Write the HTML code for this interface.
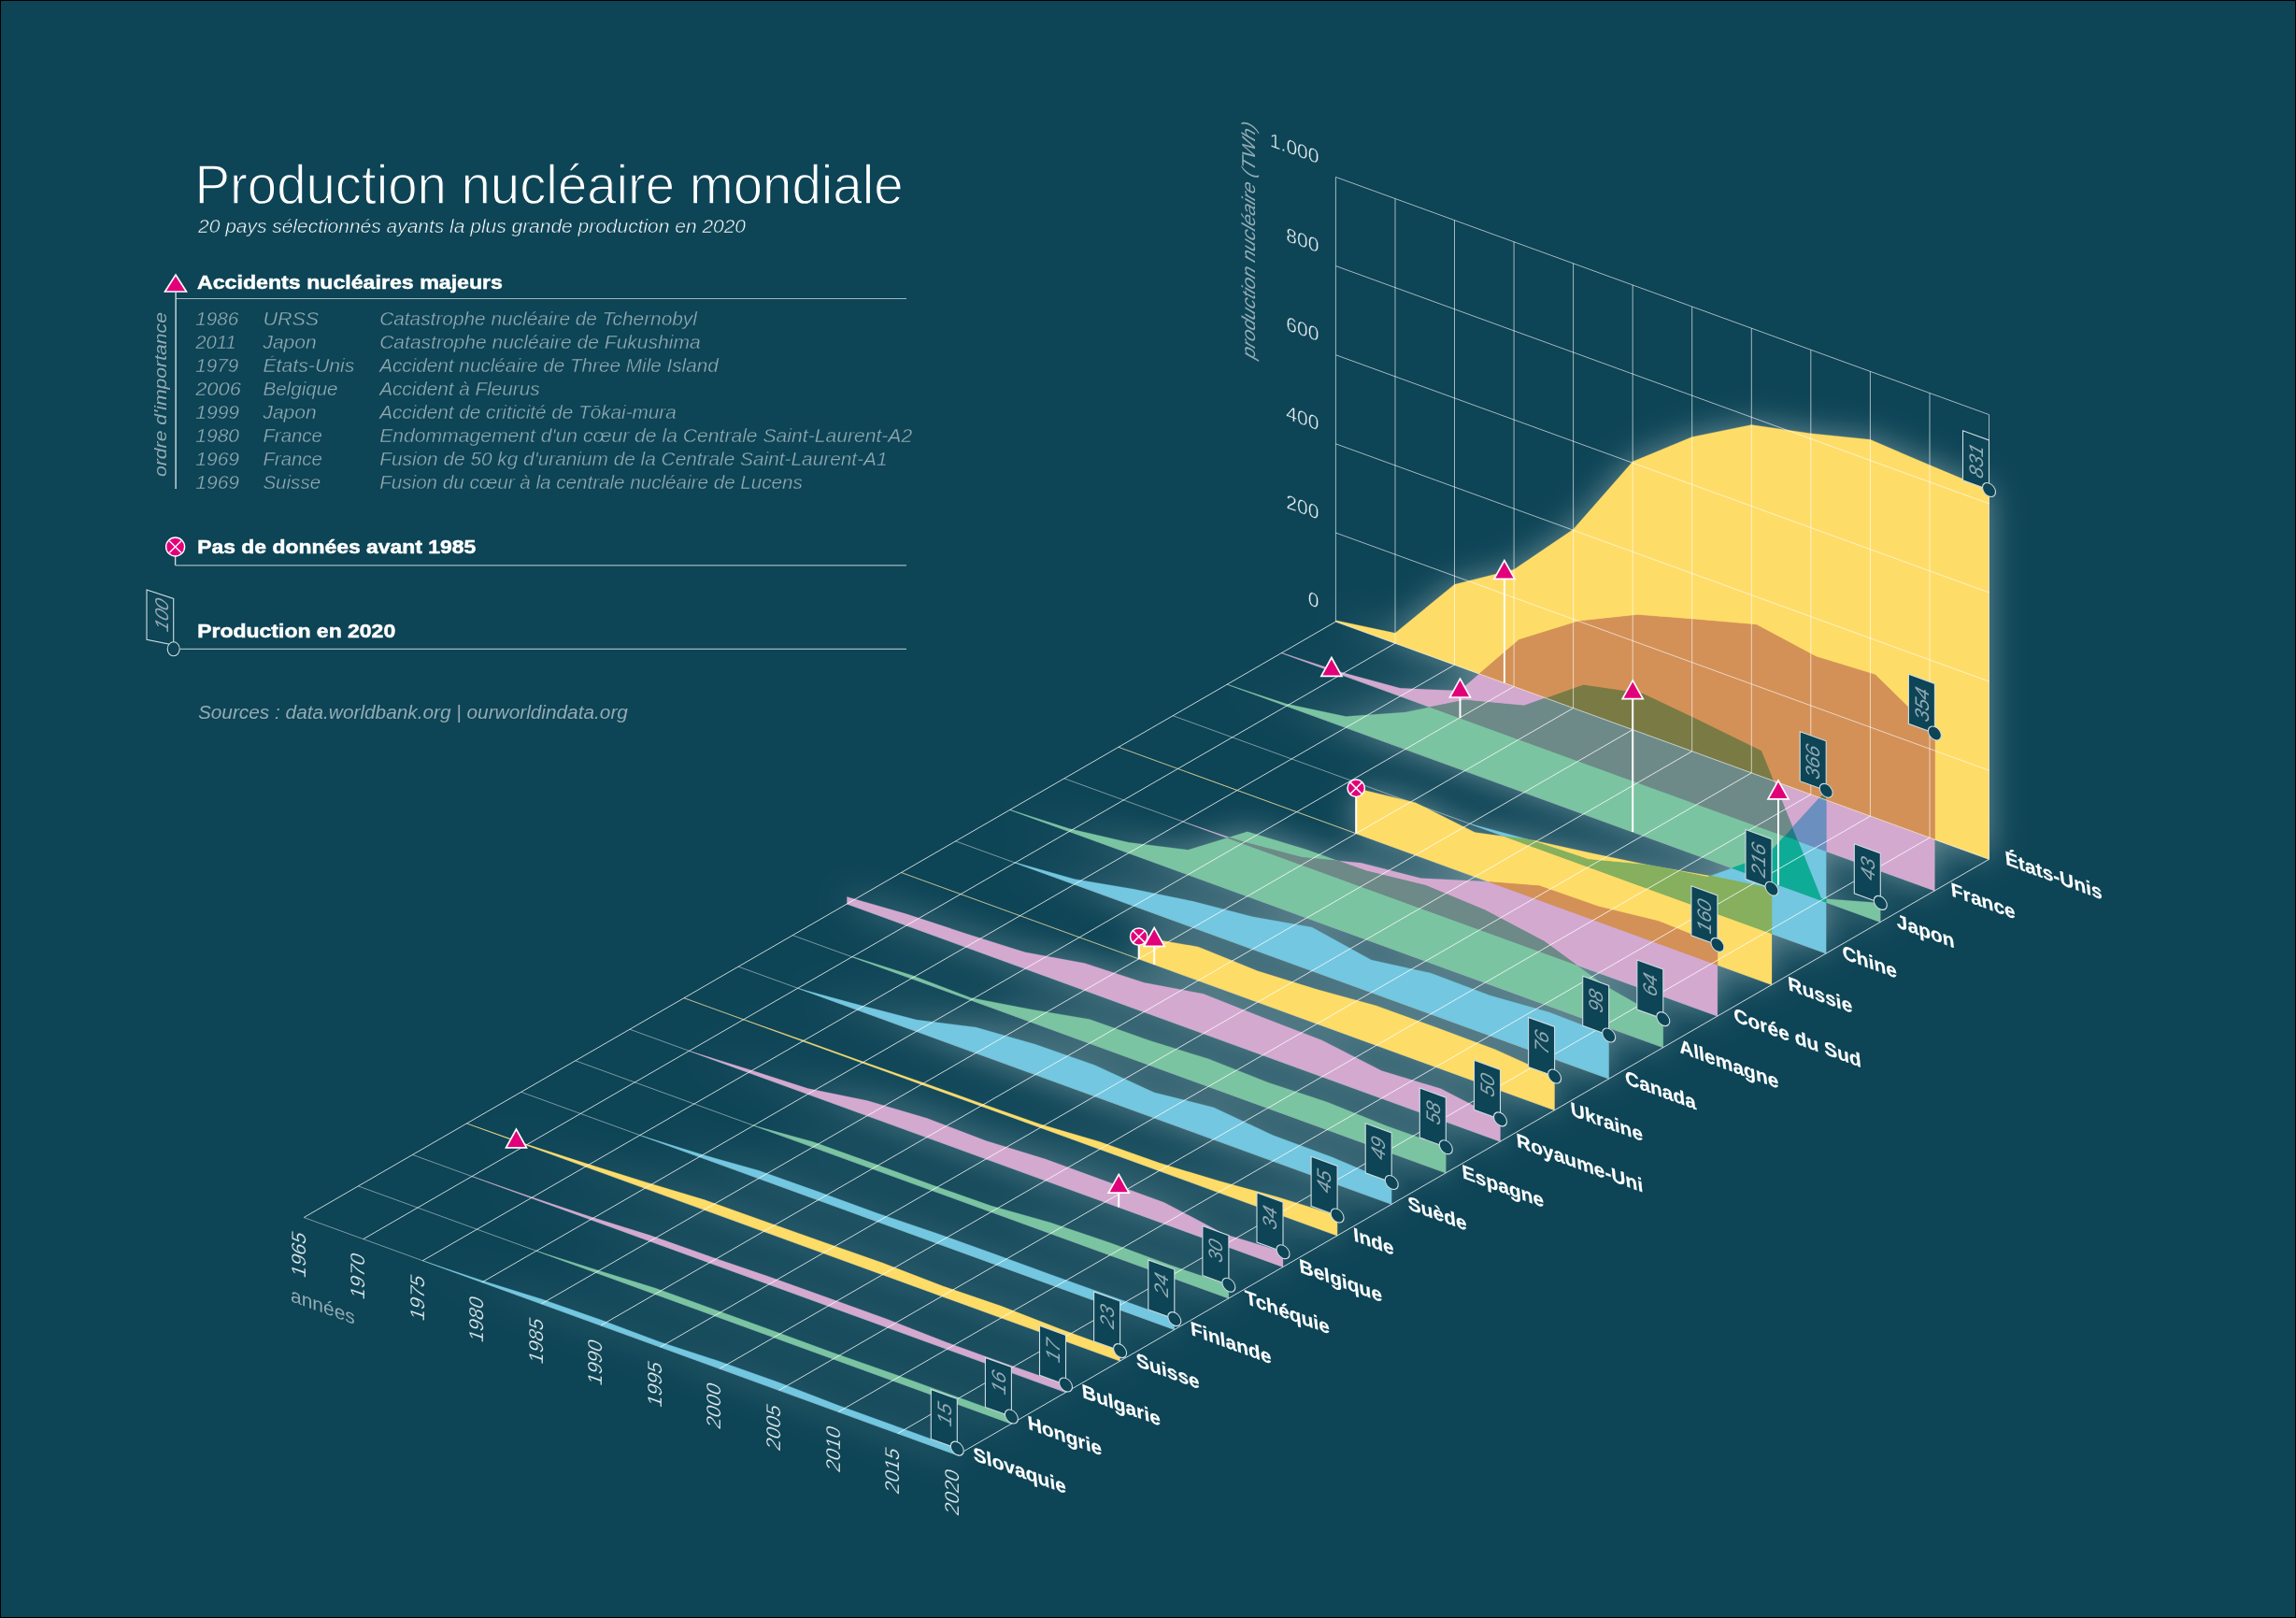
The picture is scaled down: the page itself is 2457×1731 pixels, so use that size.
<!DOCTYPE html><html><head><meta charset="utf-8"><style>html,body{margin:0;padding:0;background:#000;}svg{display:block}text{font-family:"Liberation Sans",sans-serif}</style></head><body>
<svg width="2457" height="1731" viewBox="0 0 2457 1731">
<defs><filter id="blur" x="-5%" y="-10%" width="110%" height="120%"><feGaussianBlur in="SourceAlpha" stdDeviation="18"/><feColorMatrix type="matrix" values="0 0 0 0 0.86  0 0 0 0 0.92  0 0 0 0 0.90  0 0 0 0.42 0"/></filter></defs>
<rect x="0" y="0" width="2457" height="1731" fill="#000"/>
<rect x="1" y="1" width="2455" height="1729" fill="#0d4456"/>
<text x="208.5" y="217.5" font-size="60" fill="#fff" stroke="#0d4456" stroke-width="1.3" textLength="758" lengthAdjust="spacingAndGlyphs">Production nucléaire mondiale</text>
<text x="212" y="248.8" font-size="20" font-style="italic" fill="#fff" stroke="#0d4456" stroke-width="0.5" textLength="586" lengthAdjust="spacingAndGlyphs">20 pays sélectionnés ayants la plus grande production en 2020</text>
<polygon points="188,294 199.5,312 176.5,312" fill="#e2007a" stroke="#fff" stroke-width="1.6" stroke-linejoin="miter"/>
<text x="211" y="309.2" font-size="21" font-weight="bold" fill="#fff" stroke="#fff" stroke-width="0.5" textLength="327" lengthAdjust="spacingAndGlyphs">Accidents nucléaires majeurs</text>
<line x1="188" y1="319.5" x2="970" y2="319.5" stroke="#9fb8bf" stroke-width="1.2"/>
<line x1="188.1" y1="312" x2="188.1" y2="523" stroke="#cfdde1" stroke-width="1.4"/>
<text transform="translate(178,510) rotate(-90)" font-size="19" font-style="italic" fill="#93abb3" textLength="176" lengthAdjust="spacingAndGlyphs">ordre d'importance</text>
<text x="209.2" y="348.0" font-size="20.5" font-style="italic" fill="#93abb3" stroke="#0d4456" stroke-width="0.35" textLength="46.1" lengthAdjust="spacingAndGlyphs">1986</text>
<text x="281.4" y="348.0" font-size="20.5" font-style="italic" fill="#93abb3" stroke="#0d4456" stroke-width="0.35" textLength="59.8" lengthAdjust="spacingAndGlyphs">URSS</text>
<text x="406.2" y="348.0" font-size="20.5" font-style="italic" fill="#93abb3" stroke="#0d4456" stroke-width="0.35" textLength="339.7" lengthAdjust="spacingAndGlyphs">Catastrophe nucléaire de Tchernobyl</text>
<text x="209.2" y="373.0" font-size="20.5" font-style="italic" fill="#93abb3" stroke="#0d4456" stroke-width="0.35" textLength="43.5" lengthAdjust="spacingAndGlyphs">2011</text>
<text x="281.4" y="373.0" font-size="20.5" font-style="italic" fill="#93abb3" stroke="#0d4456" stroke-width="0.35" textLength="57.2" lengthAdjust="spacingAndGlyphs">Japon</text>
<text x="406.2" y="373.0" font-size="20.5" font-style="italic" fill="#93abb3" stroke="#0d4456" stroke-width="0.35" textLength="343.4" lengthAdjust="spacingAndGlyphs">Catastrophe nucléaire de Fukushima</text>
<text x="209.2" y="398.1" font-size="20.5" font-style="italic" fill="#93abb3" stroke="#0d4456" stroke-width="0.35" textLength="46.1" lengthAdjust="spacingAndGlyphs">1979</text>
<text x="281.4" y="398.1" font-size="20.5" font-style="italic" fill="#93abb3" stroke="#0d4456" stroke-width="0.35" textLength="98" lengthAdjust="spacingAndGlyphs">États-Unis</text>
<text x="406.2" y="398.1" font-size="20.5" font-style="italic" fill="#93abb3" stroke="#0d4456" stroke-width="0.35" textLength="362.6" lengthAdjust="spacingAndGlyphs">Accident nucléaire de Three Mile Island</text>
<text x="209.2" y="423.1" font-size="20.5" font-style="italic" fill="#93abb3" stroke="#0d4456" stroke-width="0.35" textLength="48.7" lengthAdjust="spacingAndGlyphs">2006</text>
<text x="281.4" y="423.1" font-size="20.5" font-style="italic" fill="#93abb3" stroke="#0d4456" stroke-width="0.35" textLength="80.2" lengthAdjust="spacingAndGlyphs">Belgique</text>
<text x="406.2" y="423.1" font-size="20.5" font-style="italic" fill="#93abb3" stroke="#0d4456" stroke-width="0.35" textLength="171.3" lengthAdjust="spacingAndGlyphs">Accident à Fleurus</text>
<text x="209.2" y="448.1" font-size="20.5" font-style="italic" fill="#93abb3" stroke="#0d4456" stroke-width="0.35" textLength="46.9" lengthAdjust="spacingAndGlyphs">1999</text>
<text x="281.4" y="448.1" font-size="20.5" font-style="italic" fill="#93abb3" stroke="#0d4456" stroke-width="0.35" textLength="57.2" lengthAdjust="spacingAndGlyphs">Japon</text>
<text x="406.2" y="448.1" font-size="20.5" font-style="italic" fill="#93abb3" stroke="#0d4456" stroke-width="0.35" textLength="317.5" lengthAdjust="spacingAndGlyphs">Accident de criticité de Tōkai-mura</text>
<text x="209.2" y="473.1" font-size="20.5" font-style="italic" fill="#93abb3" stroke="#0d4456" stroke-width="0.35" textLength="46.9" lengthAdjust="spacingAndGlyphs">1980</text>
<text x="281.4" y="473.1" font-size="20.5" font-style="italic" fill="#93abb3" stroke="#0d4456" stroke-width="0.35" textLength="63.5" lengthAdjust="spacingAndGlyphs">France</text>
<text x="406.2" y="473.1" font-size="20.5" font-style="italic" fill="#93abb3" stroke="#0d4456" stroke-width="0.35" textLength="570" lengthAdjust="spacingAndGlyphs">Endommagement d'un cœur de la Centrale Saint-Laurent-A2</text>
<text x="209.2" y="498.2" font-size="20.5" font-style="italic" fill="#93abb3" stroke="#0d4456" stroke-width="0.35" textLength="46.9" lengthAdjust="spacingAndGlyphs">1969</text>
<text x="281.4" y="498.2" font-size="20.5" font-style="italic" fill="#93abb3" stroke="#0d4456" stroke-width="0.35" textLength="63.5" lengthAdjust="spacingAndGlyphs">France</text>
<text x="406.2" y="498.2" font-size="20.5" font-style="italic" fill="#93abb3" stroke="#0d4456" stroke-width="0.35" textLength="543.3" lengthAdjust="spacingAndGlyphs">Fusion de 50 kg d'uranium de la Centrale Saint-Laurent-A1</text>
<text x="209.2" y="523.2" font-size="20.5" font-style="italic" fill="#93abb3" stroke="#0d4456" stroke-width="0.35" textLength="46.9" lengthAdjust="spacingAndGlyphs">1969</text>
<text x="281.4" y="523.2" font-size="20.5" font-style="italic" fill="#93abb3" stroke="#0d4456" stroke-width="0.35" textLength="61.7" lengthAdjust="spacingAndGlyphs">Suisse</text>
<text x="406.2" y="523.2" font-size="20.5" font-style="italic" fill="#93abb3" stroke="#0d4456" stroke-width="0.35" textLength="452.6" lengthAdjust="spacingAndGlyphs">Fusion du cœur à la centrale nucléaire de Lucens</text>
<line x1="187.6" y1="590" x2="187.6" y2="604.8" stroke="#cfdde1" stroke-width="1.4"/>
<circle cx="187.6" cy="585" r="10" fill="#e2007a" stroke="#fff" stroke-width="1.4"/>
<path d="M181.3,578.7 L193.9,591.3 M193.9,578.7 L181.3,591.3" stroke="#fff" stroke-width="1.4"/>
<text x="211.2" y="592.4" font-size="21" font-weight="bold" fill="#fff" stroke="#fff" stroke-width="0.5" textLength="298" lengthAdjust="spacingAndGlyphs">Pas de données avant 1985</text>
<line x1="187.6" y1="604.8" x2="970" y2="604.8" stroke="#9fb8bf" stroke-width="1.2"/>
<polygon points="157,631 185.7,640.4 185.7,690 157,684.2" fill="none" stroke="#cfdde1" stroke-width="1.1"/>
<text transform="matrix(0,-1,1,0.3636,180,660)" font-size="20" font-style="italic" fill="#93abb3" text-anchor="middle">100</text>
<ellipse cx="185.7" cy="694.3" rx="6.5" ry="7.5" fill="#0d4456" stroke="#cfdde1" stroke-width="1.1"/>
<text x="211.2" y="682.3" font-size="21" font-weight="bold" fill="#fff" stroke="#fff" stroke-width="0.5" textLength="212" lengthAdjust="spacingAndGlyphs">Production en 2020</text>
<line x1="192.4" y1="694.3" x2="970" y2="694.3" stroke="#9fb8bf" stroke-width="1.2"/>
<text x="211.9" y="769.3" font-size="20.5" font-style="italic" fill="#93abb3" textLength="460" lengthAdjust="spacingAndGlyphs">Sources : data.worldbank.org | ourworldindata.org</text>
<line x1="1371.3" y1="698.6" x2="2070.4" y2="952.9" stroke="#ffffff" stroke-opacity="0.45" stroke-width="1"/>
<line x1="1313.2" y1="732.2" x2="2012.3" y2="986.4" stroke="#ffffff" stroke-opacity="0.45" stroke-width="1"/>
<line x1="1255.1" y1="765.7" x2="1954.2" y2="1020.0" stroke="#ffffff" stroke-opacity="0.45" stroke-width="1"/>
<line x1="1196.9" y1="799.3" x2="1896.0" y2="1053.5" stroke="#ffffff" stroke-opacity="0.45" stroke-width="1"/>
<line x1="1138.8" y1="832.8" x2="1837.9" y2="1087.0" stroke="#ffffff" stroke-opacity="0.45" stroke-width="1"/>
<line x1="1080.7" y1="866.4" x2="1779.8" y2="1120.6" stroke="#ffffff" stroke-opacity="0.45" stroke-width="1"/>
<line x1="1022.6" y1="899.9" x2="1721.7" y2="1154.1" stroke="#ffffff" stroke-opacity="0.45" stroke-width="1"/>
<line x1="964.5" y1="933.5" x2="1663.6" y2="1187.7" stroke="#ffffff" stroke-opacity="0.45" stroke-width="1"/>
<line x1="906.4" y1="967.0" x2="1605.5" y2="1221.2" stroke="#ffffff" stroke-opacity="0.45" stroke-width="1"/>
<line x1="848.2" y1="1000.6" x2="1547.3" y2="1254.8" stroke="#ffffff" stroke-opacity="0.45" stroke-width="1"/>
<line x1="790.1" y1="1034.1" x2="1489.2" y2="1288.3" stroke="#ffffff" stroke-opacity="0.45" stroke-width="1"/>
<line x1="732.0" y1="1067.7" x2="1431.1" y2="1321.9" stroke="#ffffff" stroke-opacity="0.45" stroke-width="1"/>
<line x1="673.9" y1="1101.2" x2="1373.0" y2="1355.4" stroke="#ffffff" stroke-opacity="0.45" stroke-width="1"/>
<line x1="615.8" y1="1134.8" x2="1314.9" y2="1389.0" stroke="#ffffff" stroke-opacity="0.45" stroke-width="1"/>
<line x1="557.7" y1="1168.3" x2="1256.8" y2="1422.5" stroke="#ffffff" stroke-opacity="0.45" stroke-width="1"/>
<line x1="499.5" y1="1201.9" x2="1198.6" y2="1456.1" stroke="#ffffff" stroke-opacity="0.45" stroke-width="1"/>
<line x1="441.4" y1="1235.4" x2="1140.5" y2="1489.6" stroke="#ffffff" stroke-opacity="0.45" stroke-width="1"/>
<line x1="383.3" y1="1268.9" x2="1082.4" y2="1523.2" stroke="#ffffff" stroke-opacity="0.45" stroke-width="1"/>
<line x1="325.2" y1="1302.5" x2="1024.3" y2="1556.7" stroke="#ffffff" stroke-opacity="0.45" stroke-width="1"/>
<g filter="url(#blur)">
<polygon points="1429.4,665.1 1429.4,663.7 1493.0,677.3 1556.5,625.2 1620.1,609.3 1683.6,566.3 1747.2,493.8 1810.7,467.4 1874.3,454.4 1937.8,463.7 2001.4,470.2 2065.0,497.6 2128.5,524.0 2128.5,919.3" fill="#fedc68"/>
<polygon points="1371.3,698.6 1371.3,698.2 1434.8,719.0 1498.4,736.3 1561.9,739.0 1625.5,684.5 1689.1,664.8 1752.6,658.0 1816.2,663.0 1879.7,668.5 1943.3,702.6 2006.8,721.9 2070.4,784.5 2070.4,952.9" fill="#d4a9d0"/>
<polygon points="1313.2,732.2 1313.2,732.2 1376.7,753.1 1440.3,766.5 1503.8,762.0 1567.4,749.0 1630.9,755.0 1694.5,732.4 1758.1,741.7 1821.6,772.0 1885.2,803.2 1948.7,961.2 2012.3,965.9 2012.3,986.4" fill="#7bc4a1"/>
<polygon points="1572.8,881.3 1572.8,881.3 1636.4,898.3 1699.9,919.6 1763.5,925.4 1827.0,938.2 1890.6,915.5 1954.2,845.8 1954.2,1020.0" fill="#73c7e0"/>
<polygon points="1196.9,799.3 1451.2,891.7 1451.2,843.2 1514.7,858.7 1578.3,890.6 1641.8,899.2 1705.4,913.3 1768.9,926.4 1832.5,937.6 1896.0,950.7 1896.0,1053.5" fill="#fedc68"/>
<polygon points="1265.9,879.1 1265.9,879.1 1329.5,900.5 1393.0,917.3 1456.6,923.2 1520.2,939.6 1583.7,942.8 1647.3,947.8 1710.8,969.9 1774.4,985.4 1837.9,1010.9 1837.9,1087.0" fill="#d4a9d0"/>
<polygon points="1080.7,866.4 1080.7,866.2 1144.3,886.6 1207.8,901.2 1271.4,909.3 1334.9,889.8 1398.5,909.1 1462.0,931.8 1525.6,947.3 1589.1,973.7 1652.7,1007.3 1716.3,1053.7 1779.8,1090.1 1779.8,1120.6" fill="#7bc4a1"/>
<polygon points="1086.1,923.0 1086.1,922.6 1149.7,940.4 1213.3,951.2 1276.8,964.3 1340.4,980.8 1403.9,992.0 1467.5,1027.0 1531.0,1041.0 1594.6,1065.1 1658.1,1083.0 1721.7,1107.5 1721.7,1154.1" fill="#73c7e0"/>
<polygon points="964.5,933.5 1218.7,1025.9 1218.7,1002.1 1282.2,1012.9 1345.8,1038.8 1409.4,1058.6 1472.9,1076.0 1536.5,1099.1 1600.0,1122.7 1663.6,1151.5 1663.6,1187.7" fill="#fedc68"/>
<polygon points="906.4,967.0 906.4,959.4 969.9,977.8 1033.5,998.7 1097.0,1018.8 1160.6,1030.4 1224.1,1051.2 1287.7,1063.3 1351.2,1088.4 1414.8,1112.9 1478.4,1145.5 1541.9,1164.8 1605.5,1197.4 1605.5,1221.2" fill="#d4a9d0"/>
<polygon points="911.8,1023.7 911.8,1023.3 975.4,1043.2 1038.9,1067.4 1102.5,1079.7 1166.0,1090.4 1229.6,1113.1 1293.1,1132.8 1356.7,1157.9 1420.2,1179.1 1483.8,1204.6 1547.3,1227.2 1547.3,1254.8" fill="#7bc4a1"/>
<polygon points="853.7,1057.2 853.7,1057.2 917.2,1074.6 980.8,1091.1 1044.3,1099.0 1107.9,1117.3 1171.5,1139.5 1235.0,1168.8 1298.6,1184.7 1362.1,1214.5 1425.7,1238.1 1489.2,1265.0 1489.2,1288.3" fill="#73c7e0"/>
<polygon points="732.0,1067.7 732.0,1067.7 795.6,1090.6 859.1,1112.7 922.7,1135.6 986.2,1157.7 1049.8,1180.4 1113.3,1202.8 1176.9,1221.4 1240.4,1244.1 1304.0,1263.3 1367.6,1280.7 1431.1,1300.5 1431.1,1321.9" fill="#fedc68"/>
<polygon points="737.4,1124.3 737.4,1124.3 801.0,1144.1 864.6,1164.6 928.1,1177.5 991.7,1196.3 1055.2,1220.4 1118.8,1240.1 1182.3,1263.3 1245.9,1286.4 1309.4,1319.9 1373.0,1339.2 1373.0,1355.4" fill="#d4a9d0"/>
<polygon points="806.4,1204.1 806.4,1204.1 870.0,1221.6 933.6,1244.3 997.1,1267.6 1060.7,1290.1 1124.2,1307.9 1187.8,1329.4 1251.3,1353.1 1314.9,1374.7 1314.9,1389.0" fill="#7bc4a1"/>
<polygon points="684.8,1214.5 684.8,1214.5 748.3,1234.3 811.9,1252.2 875.4,1274.8 939.0,1297.9 1002.5,1319.4 1066.1,1342.2 1129.7,1365.4 1193.2,1388.2 1256.8,1411.1 1256.8,1422.5" fill="#73c7e0"/>
<polygon points="499.5,1201.9 499.5,1201.9 563.1,1224.1 626.7,1244.5 690.2,1264.4 753.8,1283.6 817.3,1306.2 880.9,1328.7 944.4,1351.1 1008.0,1375.6 1071.5,1397.3 1135.1,1422.0 1198.6,1445.1 1198.6,1456.1" fill="#fedc68"/>
<polygon points="505.0,1258.5 505.0,1258.5 568.5,1280.4 632.1,1301.8 695.6,1321.6 759.2,1344.0 822.8,1365.8 886.3,1388.5 949.9,1411.4 1013.4,1436.2 1077.0,1459.2 1140.5,1481.5 1140.5,1489.6" fill="#d4a9d0"/>
<polygon points="574.0,1338.3 574.0,1338.3 637.5,1358.3 701.1,1378.0 764.6,1400.9 828.2,1424.0 891.8,1447.3 955.3,1469.4 1018.9,1492.5 1082.4,1515.5 1082.4,1523.2" fill="#7bc4a1"/>
<polygon points="452.3,1348.7 452.3,1348.7 515.9,1369.9 579.4,1389.7 643.0,1412.0 706.5,1435.7 770.1,1456.4 833.6,1479.0 897.2,1503.5 960.7,1526.4 1024.3,1549.6 1024.3,1556.7" fill="#73c7e0"/>
</g>
<g style="isolation:isolate">
<polygon points="1429.4,665.1 1429.4,663.7 1493.0,677.3 1556.5,625.2 1620.1,609.3 1683.6,566.3 1747.2,493.8 1810.7,467.4 1874.3,454.4 1937.8,463.7 2001.4,470.2 2065.0,497.6 2128.5,524.0 2128.5,919.3" fill="#fedc68" stroke="#fedc68" stroke-width="0.25" style="mix-blend-mode:multiply"/>
<polygon points="1371.3,698.6 1371.3,698.2 1434.8,719.0 1498.4,736.3 1561.9,739.0 1625.5,684.5 1689.1,664.8 1752.6,658.0 1816.2,663.0 1879.7,668.5 1943.3,702.6 2006.8,721.9 2070.4,784.5 2070.4,952.9" fill="#d4a9d0" stroke="#d4a9d0" stroke-width="0.25" style="mix-blend-mode:multiply"/>
<polygon points="1313.2,732.2 1313.2,732.2 1376.7,753.1 1440.3,766.5 1503.8,762.0 1567.4,749.0 1630.9,755.0 1694.5,732.4 1758.1,741.7 1821.6,772.0 1885.2,803.2 1948.7,961.2 2012.3,965.9 2012.3,986.4" fill="#7bc4a1" stroke="#7bc4a1" stroke-width="0.25" style="mix-blend-mode:multiply"/>
<polygon points="1572.8,881.3 1572.8,881.3 1636.4,898.3 1699.9,919.6 1763.5,925.4 1827.0,938.2 1890.6,915.5 1954.2,845.8 1954.2,1020.0" fill="#73c7e0" stroke="#73c7e0" stroke-width="0.25" style="mix-blend-mode:multiply"/>
<polygon points="1196.9,799.3 1451.2,891.7 1451.2,843.2 1514.7,858.7 1578.3,890.6 1641.8,899.2 1705.4,913.3 1768.9,926.4 1832.5,937.6 1896.0,950.7 1896.0,1053.5" fill="#fedc68" stroke="#fedc68" stroke-width="0.25" style="mix-blend-mode:multiply"/>
<polygon points="1265.9,879.1 1265.9,879.1 1329.5,900.5 1393.0,917.3 1456.6,923.2 1520.2,939.6 1583.7,942.8 1647.3,947.8 1710.8,969.9 1774.4,985.4 1837.9,1010.9 1837.9,1087.0" fill="#d4a9d0" stroke="#d4a9d0" stroke-width="0.25" style="mix-blend-mode:multiply"/>
<polygon points="1080.7,866.4 1080.7,866.2 1144.3,886.6 1207.8,901.2 1271.4,909.3 1334.9,889.8 1398.5,909.1 1462.0,931.8 1525.6,947.3 1589.1,973.7 1652.7,1007.3 1716.3,1053.7 1779.8,1090.1 1779.8,1120.6" fill="#7bc4a1" stroke="#7bc4a1" stroke-width="0.25" style="mix-blend-mode:multiply"/>
<polygon points="1086.1,923.0 1086.1,922.6 1149.7,940.4 1213.3,951.2 1276.8,964.3 1340.4,980.8 1403.9,992.0 1467.5,1027.0 1531.0,1041.0 1594.6,1065.1 1658.1,1083.0 1721.7,1107.5 1721.7,1154.1" fill="#73c7e0" stroke="#73c7e0" stroke-width="0.25" style="mix-blend-mode:multiply"/>
<polygon points="964.5,933.5 1218.7,1025.9 1218.7,1002.1 1282.2,1012.9 1345.8,1038.8 1409.4,1058.6 1472.9,1076.0 1536.5,1099.1 1600.0,1122.7 1663.6,1151.5 1663.6,1187.7" fill="#fedc68" stroke="#fedc68" stroke-width="0.25" style="mix-blend-mode:multiply"/>
<polygon points="906.4,967.0 906.4,959.4 969.9,977.8 1033.5,998.7 1097.0,1018.8 1160.6,1030.4 1224.1,1051.2 1287.7,1063.3 1351.2,1088.4 1414.8,1112.9 1478.4,1145.5 1541.9,1164.8 1605.5,1197.4 1605.5,1221.2" fill="#d4a9d0" stroke="#d4a9d0" stroke-width="0.25" style="mix-blend-mode:multiply"/>
<polygon points="911.8,1023.7 911.8,1023.3 975.4,1043.2 1038.9,1067.4 1102.5,1079.7 1166.0,1090.4 1229.6,1113.1 1293.1,1132.8 1356.7,1157.9 1420.2,1179.1 1483.8,1204.6 1547.3,1227.2 1547.3,1254.8" fill="#7bc4a1" stroke="#7bc4a1" stroke-width="0.25" style="mix-blend-mode:multiply"/>
<polygon points="853.7,1057.2 853.7,1057.2 917.2,1074.6 980.8,1091.1 1044.3,1099.0 1107.9,1117.3 1171.5,1139.5 1235.0,1168.8 1298.6,1184.7 1362.1,1214.5 1425.7,1238.1 1489.2,1265.0 1489.2,1288.3" fill="#73c7e0" stroke="#73c7e0" stroke-width="0.25" style="mix-blend-mode:multiply"/>
<polygon points="732.0,1067.7 732.0,1067.7 795.6,1090.6 859.1,1112.7 922.7,1135.6 986.2,1157.7 1049.8,1180.4 1113.3,1202.8 1176.9,1221.4 1240.4,1244.1 1304.0,1263.3 1367.6,1280.7 1431.1,1300.5 1431.1,1321.9" fill="#fedc68" stroke="#fedc68" stroke-width="0.25" style="mix-blend-mode:multiply"/>
<polygon points="737.4,1124.3 737.4,1124.3 801.0,1144.1 864.6,1164.6 928.1,1177.5 991.7,1196.3 1055.2,1220.4 1118.8,1240.1 1182.3,1263.3 1245.9,1286.4 1309.4,1319.9 1373.0,1339.2 1373.0,1355.4" fill="#d4a9d0" stroke="#d4a9d0" stroke-width="0.25" style="mix-blend-mode:multiply"/>
<polygon points="806.4,1204.1 806.4,1204.1 870.0,1221.6 933.6,1244.3 997.1,1267.6 1060.7,1290.1 1124.2,1307.9 1187.8,1329.4 1251.3,1353.1 1314.9,1374.7 1314.9,1389.0" fill="#7bc4a1" stroke="#7bc4a1" stroke-width="0.25" style="mix-blend-mode:multiply"/>
<polygon points="684.8,1214.5 684.8,1214.5 748.3,1234.3 811.9,1252.2 875.4,1274.8 939.0,1297.9 1002.5,1319.4 1066.1,1342.2 1129.7,1365.4 1193.2,1388.2 1256.8,1411.1 1256.8,1422.5" fill="#73c7e0" stroke="#73c7e0" stroke-width="0.25" style="mix-blend-mode:multiply"/>
<polygon points="499.5,1201.9 499.5,1201.9 563.1,1224.1 626.7,1244.5 690.2,1264.4 753.8,1283.6 817.3,1306.2 880.9,1328.7 944.4,1351.1 1008.0,1375.6 1071.5,1397.3 1135.1,1422.0 1198.6,1445.1 1198.6,1456.1" fill="#fedc68" stroke="#fedc68" stroke-width="0.25" style="mix-blend-mode:multiply"/>
<polygon points="505.0,1258.5 505.0,1258.5 568.5,1280.4 632.1,1301.8 695.6,1321.6 759.2,1344.0 822.8,1365.8 886.3,1388.5 949.9,1411.4 1013.4,1436.2 1077.0,1459.2 1140.5,1481.5 1140.5,1489.6" fill="#d4a9d0" stroke="#d4a9d0" stroke-width="0.25" style="mix-blend-mode:multiply"/>
<polygon points="574.0,1338.3 574.0,1338.3 637.5,1358.3 701.1,1378.0 764.6,1400.9 828.2,1424.0 891.8,1447.3 955.3,1469.4 1018.9,1492.5 1082.4,1515.5 1082.4,1523.2" fill="#7bc4a1" stroke="#7bc4a1" stroke-width="0.25" style="mix-blend-mode:multiply"/>
<polygon points="452.3,1348.7 452.3,1348.7 515.9,1369.9 579.4,1389.7 643.0,1412.0 706.5,1435.7 770.1,1456.4 833.6,1479.0 897.2,1503.5 960.7,1526.4 1024.3,1549.6 1024.3,1556.7" fill="#73c7e0" stroke="#73c7e0" stroke-width="0.25" style="mix-blend-mode:multiply"/>
</g>
<path d="M1654.0,746.8 L1898.2,835.6 L1885.2,803.2 L1821.6,772.0 L1758.1,741.7 L1694.5,732.4Z" fill="rgb(122,122,69)" stroke="rgb(122,122,69)" stroke-width="0.3"/>
<path d="M1954.2,855.9 L2070.4,898.2 L2070.4,784.5 L2006.8,721.9 L1943.3,702.6 L1879.7,668.5 L1816.2,663.0 L1752.6,658.0 L1689.1,664.8 L1625.5,684.5 L1583.0,720.9 L1654.0,746.8 L1694.5,732.4 L1758.1,741.7 L1821.6,772.0 L1885.2,803.2 L1898.2,835.6 L1947.3,853.4 L1954.2,845.8Z" fill="rgb(211,145,88)" stroke="rgb(211,145,88)" stroke-width="0.3"/>
<path d="M1918.2,885.3 L1909.8,894.5 L1923.9,899.6Z" fill="rgb(30,125,130)" stroke="rgb(30,125,130)" stroke-width="0.3"/>
<path d="M1530.5,756.6 L1909.8,894.5 L1918.2,885.3 L1898.2,835.6 L1654.0,746.8 L1630.9,755.0 L1567.4,749.0Z" fill="rgb(110,138,136)" stroke="rgb(110,138,136)" stroke-width="0.3"/>
<path d="M1918.2,885.3 L1923.9,899.6 L1954.2,910.6 L1954.2,855.9 L1947.3,853.4Z" fill="rgb(107,144,192)" stroke="rgb(107,144,192)" stroke-width="0.3"/>
<path d="M1890.6,915.5 L1853.6,928.7 L1954.2,965.3 L1954.2,961.7 L1948.7,961.2 L1923.9,899.6 L1909.8,894.5Z" fill="rgb(14,172,150)" stroke="rgb(14,172,150)" stroke-width="0.3"/>
<path d="M1832.5,937.6 L1829.9,937.2 L1827.0,938.2 L1763.5,925.4 L1699.9,919.6 L1637.2,898.6 L1610.4,895.0 L1896.0,998.8 L1896.0,950.7Z" fill="rgb(134,176,94)" stroke="rgb(134,176,94)" stroke-width="0.3"/>
<path d="M1774.4,985.4 L1710.8,969.9 L1647.3,947.8 L1593.6,943.5 L1837.9,1032.4 L1837.9,1010.9Z" fill="rgb(211,145,88)" stroke="rgb(211,145,88)" stroke-width="0.3"/>
<path d="M1313.6,896.4 L1686.5,1032.0 L1652.7,1007.3 L1589.1,973.7 L1525.6,947.3 L1462.0,931.8 L1431.4,920.9 L1393.0,917.3 L1329.5,900.5 L1315.5,895.8Z" fill="rgb(110,138,136)" stroke="rgb(110,138,136)" stroke-width="0.3"/>
<line x1="1429.4" y1="665.1" x2="1429.4" y2="189.4" stroke="#ffffff" stroke-opacity="0.62" stroke-width="1"/>
<line x1="1493.0" y1="688.2" x2="1493.0" y2="212.5" stroke="#ffffff" stroke-opacity="0.62" stroke-width="1"/>
<line x1="1556.5" y1="711.3" x2="1556.5" y2="235.6" stroke="#ffffff" stroke-opacity="0.62" stroke-width="1"/>
<line x1="1620.1" y1="734.4" x2="1620.1" y2="258.7" stroke="#ffffff" stroke-opacity="0.62" stroke-width="1"/>
<line x1="1683.6" y1="757.5" x2="1683.6" y2="281.8" stroke="#ffffff" stroke-opacity="0.62" stroke-width="1"/>
<line x1="1747.2" y1="780.6" x2="1747.2" y2="304.9" stroke="#ffffff" stroke-opacity="0.62" stroke-width="1"/>
<line x1="1810.7" y1="803.8" x2="1810.7" y2="328.1" stroke="#ffffff" stroke-opacity="0.62" stroke-width="1"/>
<line x1="1874.3" y1="826.9" x2="1874.3" y2="351.2" stroke="#ffffff" stroke-opacity="0.62" stroke-width="1"/>
<line x1="1937.8" y1="850.0" x2="1937.8" y2="374.3" stroke="#ffffff" stroke-opacity="0.62" stroke-width="1"/>
<line x1="2001.4" y1="873.1" x2="2001.4" y2="397.4" stroke="#ffffff" stroke-opacity="0.62" stroke-width="1"/>
<line x1="2065.0" y1="896.2" x2="2065.0" y2="420.5" stroke="#ffffff" stroke-opacity="0.62" stroke-width="1"/>
<line x1="2128.5" y1="919.3" x2="2128.5" y2="443.6" stroke="#ffffff" stroke-opacity="0.62" stroke-width="1"/>
<line x1="1429.4" y1="665.1" x2="2128.5" y2="919.3" stroke="#ffffff" stroke-opacity="0.62" stroke-width="1"/>
<line x1="1429.4" y1="570.0" x2="2128.5" y2="824.2" stroke="#ffffff" stroke-opacity="0.62" stroke-width="1"/>
<line x1="1429.4" y1="474.8" x2="2128.5" y2="729.0" stroke="#ffffff" stroke-opacity="0.62" stroke-width="1"/>
<line x1="1429.4" y1="379.7" x2="2128.5" y2="633.9" stroke="#ffffff" stroke-opacity="0.62" stroke-width="1"/>
<line x1="1429.4" y1="284.5" x2="2128.5" y2="538.8" stroke="#ffffff" stroke-opacity="0.62" stroke-width="1"/>
<line x1="1429.4" y1="189.4" x2="2128.5" y2="443.6" stroke="#ffffff" stroke-opacity="0.62" stroke-width="1"/>
<line x1="1429.4" y1="665.1" x2="325.2" y2="1302.5" stroke="#ffffff" stroke-opacity="0.78" stroke-width="1"/>
<line x1="1493.0" y1="688.2" x2="388.8" y2="1325.6" stroke="#ffffff" stroke-opacity="0.78" stroke-width="1"/>
<line x1="1556.5" y1="711.3" x2="452.3" y2="1348.7" stroke="#ffffff" stroke-opacity="0.78" stroke-width="1"/>
<line x1="1620.1" y1="734.4" x2="515.9" y2="1371.8" stroke="#ffffff" stroke-opacity="0.78" stroke-width="1"/>
<line x1="1683.6" y1="757.5" x2="579.4" y2="1394.9" stroke="#ffffff" stroke-opacity="0.78" stroke-width="1"/>
<line x1="1747.2" y1="780.6" x2="643.0" y2="1418.0" stroke="#ffffff" stroke-opacity="0.78" stroke-width="1"/>
<line x1="1810.7" y1="803.8" x2="706.5" y2="1441.2" stroke="#ffffff" stroke-opacity="0.78" stroke-width="1"/>
<line x1="1874.3" y1="826.9" x2="770.1" y2="1464.3" stroke="#ffffff" stroke-opacity="0.78" stroke-width="1"/>
<line x1="1937.8" y1="850.0" x2="833.6" y2="1487.4" stroke="#ffffff" stroke-opacity="0.78" stroke-width="1"/>
<line x1="2001.4" y1="873.1" x2="897.2" y2="1510.5" stroke="#ffffff" stroke-opacity="0.78" stroke-width="1"/>
<line x1="2065.0" y1="896.2" x2="960.7" y2="1533.6" stroke="#ffffff" stroke-opacity="0.78" stroke-width="1"/>
<line x1="2128.5" y1="919.3" x2="1024.3" y2="1556.7" stroke="#ffffff" stroke-opacity="0.78" stroke-width="1"/>
<line x1="1609.9" y1="730.7" x2="1609.9" y2="618.9" stroke="#fff" stroke-width="2"/>
<polygon points="1609.9,599.6 1620.9,619.4 1598.9,619.4" fill="#e2007a" stroke="#fff" stroke-width="1.7"/>
<line x1="1903.0" y1="946.7" x2="1903.0" y2="854.4" stroke="#fff" stroke-width="2"/>
<polygon points="1903.0,835.1 1914.0,854.9 1892.0,854.9" fill="#e2007a" stroke="#fff" stroke-width="1.7"/>
<line x1="1747.2" y1="890.0" x2="1747.2" y2="747.2" stroke="#fff" stroke-width="2"/>
<polygon points="1747.2,727.9 1758.2,747.7 1736.2,747.7" fill="#e2007a" stroke="#fff" stroke-width="1.7"/>
<line x1="1562.5" y1="768.2" x2="1562.5" y2="745.5" stroke="#fff" stroke-width="2"/>
<polygon points="1562.5,726.2 1573.5,746.0 1551.5,746.0" fill="#e2007a" stroke="#fff" stroke-width="1.7"/>
<polygon points="1424.9,703.5 1435.9,723.3 1413.9,723.3" fill="#e2007a" stroke="#fff" stroke-width="1.7"/>
<polygon points="552.5,1208.1 563.5,1227.9 541.5,1227.9" fill="#e2007a" stroke="#fff" stroke-width="1.7"/>
<line x1="1197.2" y1="1291.5" x2="1197.2" y2="1275.7" stroke="#fff" stroke-width="2"/>
<polygon points="1197.2,1256.4 1208.2,1276.2 1186.2,1276.2" fill="#e2007a" stroke="#fff" stroke-width="1.7"/>
<line x1="1235.2" y1="1031.9" x2="1235.2" y2="1011.9" stroke="#fff" stroke-width="2"/>
<polygon points="1235.2,992.6 1246.2,1012.4 1224.2,1012.4" fill="#e2007a" stroke="#fff" stroke-width="1.7"/>
<line x1="1451.2" y1="891.7" x2="1451.2" y2="843.2" stroke="#fff" stroke-width="2"/>
<circle cx="1451.2" cy="843.2" r="9.2" fill="#e2007a" stroke="#fff" stroke-width="1.5"/>
<path d="M1444.9,836.9 L1457.5,849.5 M1457.5,836.9 L1444.9,849.5" stroke="#fff" stroke-width="1.5"/>
<line x1="1218.7" y1="1025.9" x2="1218.7" y2="1002.1" stroke="#fff" stroke-width="2"/>
<circle cx="1218.7" cy="1002.1" r="9.2" fill="#e2007a" stroke="#fff" stroke-width="1.5"/>
<path d="M1212.4,995.8 L1225.0,1008.4 M1225.0,995.8 L1212.4,1008.4" stroke="#fff" stroke-width="1.5"/>
<polygon points="2100.5,513.8 2100.5,460.8 2128.5,471.0 2128.5,524.0" fill="#0d4456" stroke="#cfdde1" stroke-width="1.1"/>
<text transform="matrix(0,-1,1,0.3636,2121.7,478.0)" font-size="21" font-style="italic" fill="#93abb3" text-anchor="end">831</text>
<ellipse transform="matrix(1,0.3636,0,1,2128.5,524.0)" cx="0" cy="0" rx="7" ry="7" fill="#0d4456" stroke="#cfdde1" stroke-width="1.1"/>
<text transform="matrix(1,0.3636,0.1,1,2146.5,924.8)" font-size="21" font-weight="bold" fill="#fff" stroke="#fff" stroke-width="0.15">États-Unis</text>
<polygon points="2042.4,774.3 2042.4,721.3 2070.4,731.5 2070.4,784.5" fill="#0d4456" stroke="#cfdde1" stroke-width="1.1"/>
<text transform="matrix(0,-1,1,0.3636,2063.6,738.5)" font-size="21" font-style="italic" fill="#93abb3" text-anchor="end">354</text>
<ellipse transform="matrix(1,0.3636,0,1,2070.4,784.5)" cx="0" cy="0" rx="7" ry="7" fill="#0d4456" stroke="#cfdde1" stroke-width="1.1"/>
<text transform="matrix(1,0.3636,0.1,1,2088.4,958.4)" font-size="21" font-weight="bold" fill="#fff" stroke="#fff" stroke-width="0.15">France</text>
<polygon points="1984.3,955.8 1984.3,902.8 2012.3,912.9 2012.3,965.9" fill="#0d4456" stroke="#cfdde1" stroke-width="1.1"/>
<text transform="matrix(0,-1,1,0.3636,2005.5,920.0)" font-size="21" font-style="italic" fill="#93abb3" text-anchor="end">43</text>
<ellipse transform="matrix(1,0.3636,0,1,2012.3,965.9)" cx="0" cy="0" rx="7" ry="7" fill="#0d4456" stroke="#cfdde1" stroke-width="1.1"/>
<text transform="matrix(1,0.3636,0.1,1,2030.3,991.9)" font-size="21" font-weight="bold" fill="#fff" stroke="#fff" stroke-width="0.15">Japon</text>
<polygon points="1926.2,835.7 1926.2,782.7 1954.2,792.8 1954.2,845.8" fill="#0d4456" stroke="#cfdde1" stroke-width="1.1"/>
<text transform="matrix(0,-1,1,0.3636,1947.4,799.9)" font-size="21" font-style="italic" fill="#93abb3" text-anchor="end">366</text>
<ellipse transform="matrix(1,0.3636,0,1,1954.2,845.8)" cx="0" cy="0" rx="7" ry="7" fill="#0d4456" stroke="#cfdde1" stroke-width="1.1"/>
<text transform="matrix(1,0.3636,0.1,1,1972.2,1025.5)" font-size="21" font-weight="bold" fill="#fff" stroke="#fff" stroke-width="0.15">Chine</text>
<polygon points="1868.0,940.6 1868.0,887.6 1896.0,897.7 1896.0,950.7" fill="#0d4456" stroke="#cfdde1" stroke-width="1.1"/>
<text transform="matrix(0,-1,1,0.3636,1889.2,904.8)" font-size="21" font-style="italic" fill="#93abb3" text-anchor="end">216</text>
<ellipse transform="matrix(1,0.3636,0,1,1896.0,950.7)" cx="0" cy="0" rx="7" ry="7" fill="#0d4456" stroke="#cfdde1" stroke-width="1.1"/>
<text transform="matrix(1,0.3636,0.1,1,1914.0,1059.0)" font-size="21" font-weight="bold" fill="#fff" stroke="#fff" stroke-width="0.15">Russie</text>
<polygon points="1809.9,1000.8 1809.9,947.8 1837.9,957.9 1837.9,1010.9" fill="#0d4456" stroke="#cfdde1" stroke-width="1.1"/>
<text transform="matrix(0,-1,1,0.3636,1831.1,965.0)" font-size="21" font-style="italic" fill="#93abb3" text-anchor="end">160</text>
<ellipse transform="matrix(1,0.3636,0,1,1837.9,1010.9)" cx="0" cy="0" rx="7" ry="7" fill="#0d4456" stroke="#cfdde1" stroke-width="1.1"/>
<text transform="matrix(1,0.3636,0.1,1,1855.9,1092.5)" font-size="21" font-weight="bold" fill="#fff" stroke="#fff" stroke-width="0.15">Corée du Sud</text>
<polygon points="1751.8,1080.0 1751.8,1027.0 1779.8,1037.1 1779.8,1090.1" fill="#0d4456" stroke="#cfdde1" stroke-width="1.1"/>
<text transform="matrix(0,-1,1,0.3636,1773.0,1044.2)" font-size="21" font-style="italic" fill="#93abb3" text-anchor="end">64</text>
<ellipse transform="matrix(1,0.3636,0,1,1779.8,1090.1)" cx="0" cy="0" rx="7" ry="7" fill="#0d4456" stroke="#cfdde1" stroke-width="1.1"/>
<text transform="matrix(1,0.3636,0.1,1,1797.8,1126.1)" font-size="21" font-weight="bold" fill="#fff" stroke="#fff" stroke-width="0.15">Allemagne</text>
<polygon points="1693.7,1097.3 1693.7,1044.3 1721.7,1054.5 1721.7,1107.5" fill="#0d4456" stroke="#cfdde1" stroke-width="1.1"/>
<text transform="matrix(0,-1,1,0.3636,1714.9,1061.5)" font-size="21" font-style="italic" fill="#93abb3" text-anchor="end">98</text>
<ellipse transform="matrix(1,0.3636,0,1,1721.7,1107.5)" cx="0" cy="0" rx="7" ry="7" fill="#0d4456" stroke="#cfdde1" stroke-width="1.1"/>
<text transform="matrix(1,0.3636,0.1,1,1739.7,1159.6)" font-size="21" font-weight="bold" fill="#fff" stroke="#fff" stroke-width="0.15">Canada</text>
<polygon points="1635.6,1141.4 1635.6,1088.4 1663.6,1098.5 1663.6,1151.5" fill="#0d4456" stroke="#cfdde1" stroke-width="1.1"/>
<text transform="matrix(0,-1,1,0.3636,1656.8,1105.6)" font-size="21" font-style="italic" fill="#93abb3" text-anchor="end">76</text>
<ellipse transform="matrix(1,0.3636,0,1,1663.6,1151.5)" cx="0" cy="0" rx="7" ry="7" fill="#0d4456" stroke="#cfdde1" stroke-width="1.1"/>
<text transform="matrix(1,0.3636,0.1,1,1681.6,1193.2)" font-size="21" font-weight="bold" fill="#fff" stroke="#fff" stroke-width="0.15">Ukraine</text>
<polygon points="1577.5,1187.3 1577.5,1134.3 1605.5,1144.4 1605.5,1197.4" fill="#0d4456" stroke="#cfdde1" stroke-width="1.1"/>
<text transform="matrix(0,-1,1,0.3636,1598.7,1151.5)" font-size="21" font-style="italic" fill="#93abb3" text-anchor="end">50</text>
<ellipse transform="matrix(1,0.3636,0,1,1605.5,1197.4)" cx="0" cy="0" rx="7" ry="7" fill="#0d4456" stroke="#cfdde1" stroke-width="1.1"/>
<text transform="matrix(1,0.3636,0.1,1,1623.5,1226.7)" font-size="21" font-weight="bold" fill="#fff" stroke="#fff" stroke-width="0.15">Royaume-Uni</text>
<polygon points="1519.3,1217.0 1519.3,1164.0 1547.3,1174.2 1547.3,1227.2" fill="#0d4456" stroke="#cfdde1" stroke-width="1.1"/>
<text transform="matrix(0,-1,1,0.3636,1540.5,1181.2)" font-size="21" font-style="italic" fill="#93abb3" text-anchor="end">58</text>
<ellipse transform="matrix(1,0.3636,0,1,1547.3,1227.2)" cx="0" cy="0" rx="7" ry="7" fill="#0d4456" stroke="#cfdde1" stroke-width="1.1"/>
<text transform="matrix(1,0.3636,0.1,1,1565.3,1260.3)" font-size="21" font-weight="bold" fill="#fff" stroke="#fff" stroke-width="0.15">Espagne</text>
<polygon points="1461.2,1254.8 1461.2,1201.8 1489.2,1212.0 1489.2,1265.0" fill="#0d4456" stroke="#cfdde1" stroke-width="1.1"/>
<text transform="matrix(0,-1,1,0.3636,1482.4,1219.0)" font-size="21" font-style="italic" fill="#93abb3" text-anchor="end">49</text>
<ellipse transform="matrix(1,0.3636,0,1,1489.2,1265.0)" cx="0" cy="0" rx="7" ry="7" fill="#0d4456" stroke="#cfdde1" stroke-width="1.1"/>
<text transform="matrix(1,0.3636,0.1,1,1507.2,1293.8)" font-size="21" font-weight="bold" fill="#fff" stroke="#fff" stroke-width="0.15">Suède</text>
<polygon points="1403.1,1290.3 1403.1,1237.3 1431.1,1247.5 1431.1,1300.5" fill="#0d4456" stroke="#cfdde1" stroke-width="1.1"/>
<text transform="matrix(0,-1,1,0.3636,1424.3,1254.5)" font-size="21" font-style="italic" fill="#93abb3" text-anchor="end">45</text>
<ellipse transform="matrix(1,0.3636,0,1,1431.1,1300.5)" cx="0" cy="0" rx="7" ry="7" fill="#0d4456" stroke="#cfdde1" stroke-width="1.1"/>
<text transform="matrix(1,0.3636,0.1,1,1449.1,1327.4)" font-size="21" font-weight="bold" fill="#fff" stroke="#fff" stroke-width="0.15">Inde</text>
<polygon points="1345.0,1329.1 1345.0,1276.1 1373.0,1286.2 1373.0,1339.2" fill="#0d4456" stroke="#cfdde1" stroke-width="1.1"/>
<text transform="matrix(0,-1,1,0.3636,1366.2,1293.3)" font-size="21" font-style="italic" fill="#93abb3" text-anchor="end">34</text>
<ellipse transform="matrix(1,0.3636,0,1,1373.0,1339.2)" cx="0" cy="0" rx="7" ry="7" fill="#0d4456" stroke="#cfdde1" stroke-width="1.1"/>
<text transform="matrix(1,0.3636,0.1,1,1391.0,1360.9)" font-size="21" font-weight="bold" fill="#fff" stroke="#fff" stroke-width="0.15">Belgique</text>
<polygon points="1286.9,1364.5 1286.9,1311.5 1314.9,1321.7 1314.9,1374.7" fill="#0d4456" stroke="#cfdde1" stroke-width="1.1"/>
<text transform="matrix(0,-1,1,0.3636,1308.1,1328.7)" font-size="21" font-style="italic" fill="#93abb3" text-anchor="end">30</text>
<ellipse transform="matrix(1,0.3636,0,1,1314.9,1374.7)" cx="0" cy="0" rx="7" ry="7" fill="#0d4456" stroke="#cfdde1" stroke-width="1.1"/>
<text transform="matrix(1,0.3636,0.1,1,1332.9,1394.5)" font-size="21" font-weight="bold" fill="#fff" stroke="#fff" stroke-width="0.15">Tchéquie</text>
<polygon points="1228.8,1400.9 1228.8,1347.9 1256.8,1358.1 1256.8,1411.1" fill="#0d4456" stroke="#cfdde1" stroke-width="1.1"/>
<text transform="matrix(0,-1,1,0.3636,1250.0,1365.1)" font-size="21" font-style="italic" fill="#93abb3" text-anchor="end">24</text>
<ellipse transform="matrix(1,0.3636,0,1,1256.8,1411.1)" cx="0" cy="0" rx="7" ry="7" fill="#0d4456" stroke="#cfdde1" stroke-width="1.1"/>
<text transform="matrix(1,0.3636,0.1,1,1274.8,1428.0)" font-size="21" font-weight="bold" fill="#fff" stroke="#fff" stroke-width="0.15">Finlande</text>
<polygon points="1170.6,1434.9 1170.6,1381.9 1198.6,1392.1 1198.6,1445.1" fill="#0d4456" stroke="#cfdde1" stroke-width="1.1"/>
<text transform="matrix(0,-1,1,0.3636,1191.8,1399.1)" font-size="21" font-style="italic" fill="#93abb3" text-anchor="end">23</text>
<ellipse transform="matrix(1,0.3636,0,1,1198.6,1445.1)" cx="0" cy="0" rx="7" ry="7" fill="#0d4456" stroke="#cfdde1" stroke-width="1.1"/>
<text transform="matrix(1,0.3636,0.1,1,1216.6,1461.6)" font-size="21" font-weight="bold" fill="#fff" stroke="#fff" stroke-width="0.15">Suisse</text>
<polygon points="1112.5,1471.3 1112.5,1418.3 1140.5,1428.5 1140.5,1481.5" fill="#0d4456" stroke="#cfdde1" stroke-width="1.1"/>
<text transform="matrix(0,-1,1,0.3636,1133.7,1435.5)" font-size="21" font-style="italic" fill="#93abb3" text-anchor="end">17</text>
<ellipse transform="matrix(1,0.3636,0,1,1140.5,1481.5)" cx="0" cy="0" rx="7" ry="7" fill="#0d4456" stroke="#cfdde1" stroke-width="1.1"/>
<text transform="matrix(1,0.3636,0.1,1,1158.5,1495.1)" font-size="21" font-weight="bold" fill="#fff" stroke="#fff" stroke-width="0.15">Bulgarie</text>
<polygon points="1054.4,1505.4 1054.4,1452.4 1082.4,1462.5 1082.4,1515.5" fill="#0d4456" stroke="#cfdde1" stroke-width="1.1"/>
<text transform="matrix(0,-1,1,0.3636,1075.6,1469.6)" font-size="21" font-style="italic" fill="#93abb3" text-anchor="end">16</text>
<ellipse transform="matrix(1,0.3636,0,1,1082.4,1515.5)" cx="0" cy="0" rx="7" ry="7" fill="#0d4456" stroke="#cfdde1" stroke-width="1.1"/>
<text transform="matrix(1,0.3636,0.1,1,1100.4,1528.7)" font-size="21" font-weight="bold" fill="#fff" stroke="#fff" stroke-width="0.15">Hongrie</text>
<polygon points="996.3,1539.4 996.3,1486.4 1024.3,1496.6 1024.3,1549.6" fill="#0d4456" stroke="#cfdde1" stroke-width="1.1"/>
<text transform="matrix(0,-1,1,0.3636,1017.5,1503.6)" font-size="21" font-style="italic" fill="#93abb3" text-anchor="end">15</text>
<ellipse transform="matrix(1,0.3636,0,1,1024.3,1549.6)" cx="0" cy="0" rx="7" ry="7" fill="#0d4456" stroke="#cfdde1" stroke-width="1.1"/>
<text transform="matrix(1,0.3636,0.1,1,1042.3,1562.2)" font-size="21" font-weight="bold" fill="#fff" stroke="#fff" stroke-width="0.15">Slovaquie</text>
<text transform="matrix(0,-1,1,0.3636,326.5,1320.5)" font-size="21.5" fill="#e8f0f2" stroke="#0d4456" stroke-width="0.35" text-anchor="end">1965</text>
<text transform="matrix(0,-1,1,0.3636,390.1,1343.6)" font-size="21.5" fill="#e8f0f2" stroke="#0d4456" stroke-width="0.35" text-anchor="end">1970</text>
<text transform="matrix(0,-1,1,0.3636,453.6,1366.7)" font-size="21.5" fill="#e8f0f2" stroke="#0d4456" stroke-width="0.35" text-anchor="end">1975</text>
<text transform="matrix(0,-1,1,0.3636,517.2,1389.8)" font-size="21.5" fill="#e8f0f2" stroke="#0d4456" stroke-width="0.35" text-anchor="end">1980</text>
<text transform="matrix(0,-1,1,0.3636,580.7,1412.9)" font-size="21.5" fill="#e8f0f2" stroke="#0d4456" stroke-width="0.35" text-anchor="end">1985</text>
<text transform="matrix(0,-1,1,0.3636,644.3,1436.0)" font-size="21.5" fill="#e8f0f2" stroke="#0d4456" stroke-width="0.35" text-anchor="end">1990</text>
<text transform="matrix(0,-1,1,0.3636,707.8,1459.2)" font-size="21.5" fill="#e8f0f2" stroke="#0d4456" stroke-width="0.35" text-anchor="end">1995</text>
<text transform="matrix(0,-1,1,0.3636,771.4,1482.3)" font-size="21.5" fill="#e8f0f2" stroke="#0d4456" stroke-width="0.35" text-anchor="end">2000</text>
<text transform="matrix(0,-1,1,0.3636,834.9,1505.4)" font-size="21.5" fill="#e8f0f2" stroke="#0d4456" stroke-width="0.35" text-anchor="end">2005</text>
<text transform="matrix(0,-1,1,0.3636,898.5,1528.5)" font-size="21.5" fill="#e8f0f2" stroke="#0d4456" stroke-width="0.35" text-anchor="end">2010</text>
<text transform="matrix(0,-1,1,0.3636,962.0,1551.6)" font-size="21.5" fill="#e8f0f2" stroke="#0d4456" stroke-width="0.35" text-anchor="end">2015</text>
<text transform="matrix(0,-1,1,0.3636,1025.6,1574.7)" font-size="21.5" fill="#e8f0f2" stroke="#0d4456" stroke-width="0.35" text-anchor="end">2020</text>
<text transform="matrix(1,0.3636,0,1,311,1392)" font-size="21" fill="#93abb3">années</text>
<text transform="matrix(1,0.3636,0,1,1411.4,651.1)" font-size="21" fill="#e8f0f2" stroke="#0d4456" stroke-width="0.4" text-anchor="end">0</text>
<text transform="matrix(1,0.3636,0,1,1411.4,555.9)" font-size="21" fill="#e8f0f2" stroke="#0d4456" stroke-width="0.4" text-anchor="end">200</text>
<text transform="matrix(1,0.3636,0,1,1411.4,460.8)" font-size="21" fill="#e8f0f2" stroke="#0d4456" stroke-width="0.4" text-anchor="end">400</text>
<text transform="matrix(1,0.3636,0,1,1411.4,365.6)" font-size="21" fill="#e8f0f2" stroke="#0d4456" stroke-width="0.4" text-anchor="end">600</text>
<text transform="matrix(1,0.3636,0,1,1411.4,270.5)" font-size="21" fill="#e8f0f2" stroke="#0d4456" stroke-width="0.4" text-anchor="end">800</text>
<text transform="matrix(1,0.3636,0,1,1411.4,175.4)" font-size="21" fill="#e8f0f2" stroke="#0d4456" stroke-width="0.4" text-anchor="end">1.000</text>
<text transform="matrix(0,-1,1,0.3636,1343,385)" font-size="20" font-style="italic" fill="#93abb3" textLength="252" lengthAdjust="spacingAndGlyphs">production nucléaire (TWh)</text>
</svg></body></html>
